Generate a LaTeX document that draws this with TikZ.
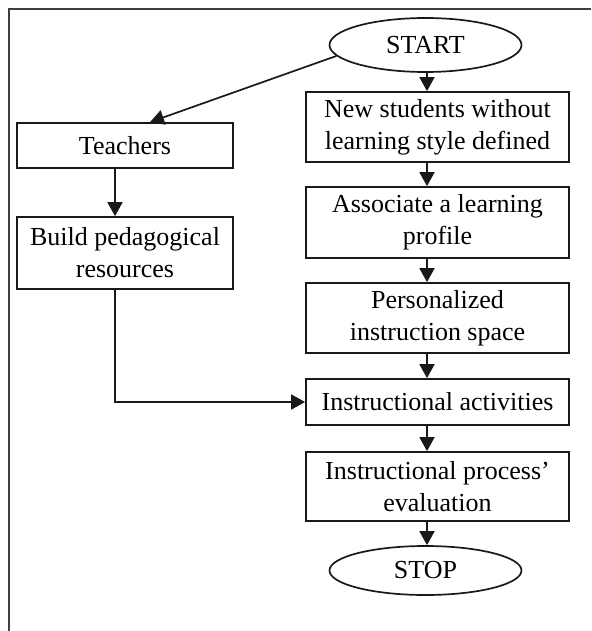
\documentclass[tikz,border=0pt]{standalone}
\usepackage{fontspec}
\setmainfont{Liberation Serif}
\usetikzlibrary{arrows.meta,shapes.geometric}
\begin{document}
\begin{tikzpicture}[x=1pt,y=-1pt,
  ink/.style={draw=black!90, line width=1.7pt},
  label/.style={font=\fontsize{26}{32}\selectfont, text=black, align=center, inner sep=0pt},
  stepbox/.style={ink, label, rectangle, minimum width=263pt},
  sidebox/.style={ink, label, rectangle, minimum width=216pt},
  terminal/.style={ink, label, ellipse, minimum width=192pt},
  flow/.style={ink, -{Triangle[length=14pt,width=15pt]}},
  frame/.style={draw=black!75, line width=1.8pt}
]
\useasboundingbox (0,0) rectangle (591,631);

% page frame (top and left edges)
\draw[frame] (9,631) -- (9,9) -- (591,9);

% main column
\node[terminal, minimum height=54pt] (start) at (425.5,45) {START};
\node[stepbox, minimum height=70pt] (new) at (437.5,127) {New students without\\learning style defined};
\node[stepbox, minimum height=71pt] (assoc) at (437.5,222.5) {Associate a learning\\profile};
\node[stepbox, minimum height=70pt] (pers) at (437.5,318) {Personalized\\instruction space};
\node[stepbox, minimum height=46pt] (act) at (437.5,402) {Instructional activities};
\node[stepbox, minimum height=69pt] (eval) at (437.5,486.5) {Instructional process’\\evaluation};
\node[terminal, minimum height=49pt] (stop) at (425.5,570.5) {STOP};

% teacher column
\node[sidebox, minimum height=45pt] (teach) at (125,145.5) {Teachers};
\node[sidebox, minimum height=72pt] (build) at (125,253) {Build pedagogical\\resources};

% vertical guide lines for the arrows
\coordinate (mainx) at (427,0);
\coordinate (sidex) at (115,0);

% connectors
\draw[flow] (start.south -| mainx) -- (new.north -| mainx);
\draw[flow] (new.south -| mainx) -- (assoc.north -| mainx);
\draw[flow] (assoc.south -| mainx) -- (pers.north -| mainx);
\draw[flow] (pers.south -| mainx) -- (act.north -| mainx);
\draw[flow] (act.south -| mainx) -- (eval.north -| mainx);
\draw[flow] (eval.south -| mainx) -- (stop.north -| mainx);

\draw[flow] (start.187) -- ([xshift=25pt]teach.north);
\draw[flow] (teach.south -| sidex) -- (build.north -| sidex);
\draw[flow] (build.south -| sidex) |- (act.west);
\end{tikzpicture}
\end{document}
